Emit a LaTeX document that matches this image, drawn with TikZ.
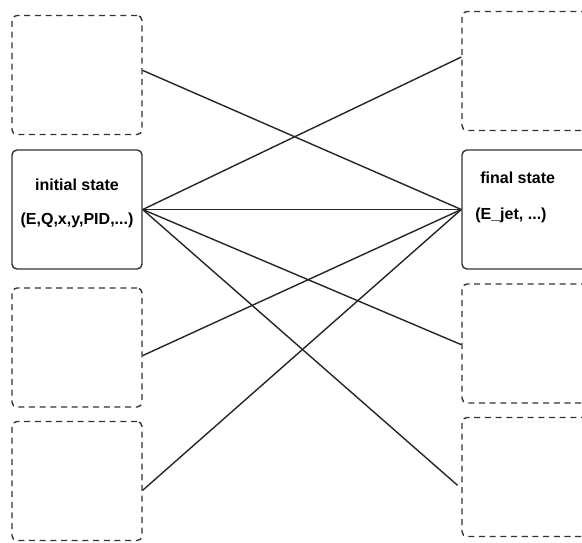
\documentclass[tikz,border=0pt]{standalone}
\usepackage{fontspec}
\setmainfont{Liberation Sans}
\begin{document}
\begin{tikzpicture}[x=0.025cm,y=-0.025cm,
    state/.style={draw=black!80,line width=1pt,rounded corners=3.5pt,
      minimum width=3.25cm,minimum height=2.975cm,inner sep=0pt},
    spare/.style={state,dash pattern=on 4.3pt off 3.3pt},
    lbl/.style={font=\fontsize{11.4}{13}\selectfont\bfseries,inner sep=0pt},
    link/.style={line width=1pt,black!85}]
  \useasboundingbox (0,0) rectangle (582,542);
  % left column
  \node[spare] (l1) at (77,75) {};
  \node[state] (init) at (77,209.5) {};
  \node[spare] (l3) at (77,347.5) {};
  \node[spare] (l4) at (77,481) {};
  % right column
  \node[spare] (r1) at (527,71) {};
  \node[state] (final) at (527,209.5) {};
  \node[spare] (r3) at (527,343.5) {};
  \node[spare] (r4) at (527,477) {};
  % texts
  \node[lbl] (initname) at (77,185) {initial state};
  \node[lbl] (initvars) at (77,220) {(E,Q,x,y,PID,...)};
  \node[lbl,anchor=west] (finalname) at (480,178) {final state};
  \node[lbl,anchor=west] (finalvars) at (475,215) {(E\_jet, ...)};
  % connections
  \draw[link] (l1.4) -- (final.west);
  \draw[link] (init.east) -- (r1.168);
  \draw[link] (init.east) -- (final.west);
  \draw[link] (init.east) -- (r3.181);
  \draw[link,shorten >=0.125cm] (init.east) -- (r4.190);
  \draw[link] (l3.-7) -- (final.west);
  \draw[link] (l4.-8) -- (final.west);
\end{tikzpicture}
\end{document}
